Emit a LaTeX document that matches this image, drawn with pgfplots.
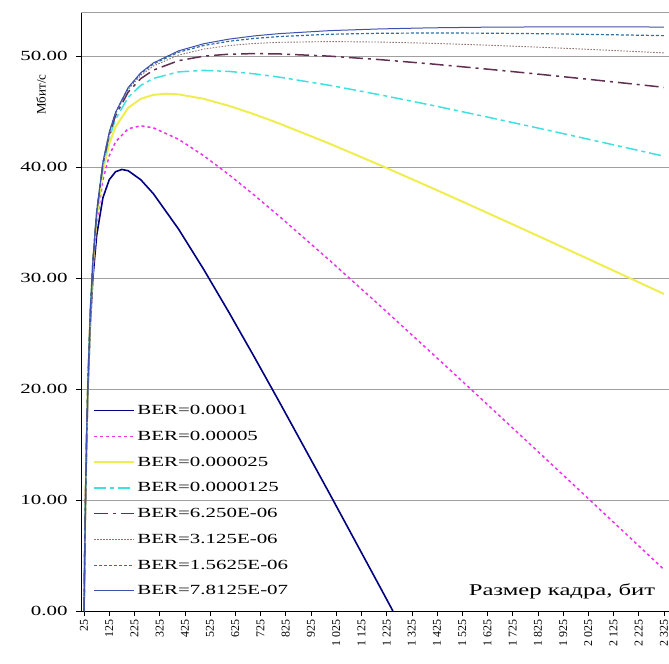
\documentclass[border=0pt]{standalone}
\usepackage{fontspec}
\setmainfont{Liberation Serif}[FakeStretch=1.5]
\newfontfamily\rotfont{Liberation Serif}
\usepackage{pgfplots}
\pgfplotsset{compat=1.18}
\definecolor{s1}{HTML}{000080}
\definecolor{s2}{HTML}{F030F0}
\definecolor{s3}{HTML}{EEEE50}
\definecolor{s4}{HTML}{40E0E0}
\definecolor{s5}{HTML}{603050}
\definecolor{s6}{HTML}{907070}
\definecolor{s7}{HTML}{3070A0}
\definecolor{s8}{HTML}{4050B0}
\begin{document}
\begin{tikzpicture}
\useasboundingbox (-81bp,-53bp) rectangle (588bp,611bp);
\clip (-81bp,-53bp) rectangle (588bp,611bp);
\begin{axis}[
   at={(0,0)}, anchor=south west,
   scale only axis,
   width=588bp, height=599bp,
   xmin=13, xmax=2345, ymin=0, ymax=54,
   axis x line*=bottom, axis y line*=left,
   axis line style={black, line width=0.8bp},
   xtick={25,125,...,2325},
   xticklabels={25,125,225,325,425,525,625,725,825,925,1 025,1 125,1 225,1 325,1 425,1 525,1 625,1 725,1 825,1 925,2 025,2 125,2 225,2 325},
   ytick={0,10,...,50},
   extra y ticks={54}, extra y tick labels={},
   extra y tick style={grid=major, major tick length=0pt},
   ymajorgrids=true,
   major grid style={gray!75, line width=0.9bp},
   tick align=outside, major tick length=5bp,
   tick style={black, line width=0.6bp},
   /pgf/number format/assume math mode=true,
   yticklabel style={font=\fontsize{14}{16}\selectfont, xshift=-5bp, /pgf/number format/.cd, fixed, fixed zerofill, precision=2},
   xticklabel style={rotate=90, anchor=east, font=\rotfont\fontsize{12}{13}\selectfont},
   ylabel={Мбит/с},
   ylabel style={at={(axis description cs:-0.068,0.862)}, anchor=center, font=\rotfont\fontsize{13}{15}\selectfont},
   legend style={at={(axis description cs:0.02,0.02)}, anchor=south west, draw=none, fill=none,
      font=\fontsize{14}{16}\selectfont, row sep=11bp, inner sep=0.5bp},
   legend cell align=left,
   legend image code/.code={\draw[#1] (0bp,0bp) -- (40bp,0bp);},
]
\addplot[s1, line width=1.6bp] coordinates {(25,0) (30,8.784) (35,14.997) (40,19.602) (50,25.92) (60,29.988) (75,33.84) (100,37.26) (125,38.88) (150,39.6) (175,39.806) (200,39.69) (250,38.88) (300,37.62) (400,34.425) (500,30.78) (600,26.91) (700,22.911) (800,18.833) (1000,10.53) (1200,2.115) (1250,0)};
\addlegendentry{BER=0.0001}
\addplot[s2, line width=1.5bp, dash pattern=on 3bp off 3bp] coordinates {(25,0) (30,8.892) (35,15.213) (40,19.926) (50,26.46) (60,30.744) (75,34.92) (100,38.88) (125,41.04) (150,42.3) (200,43.47) (250,43.74) (300,43.56) (400,42.525) (500,41.04) (600,39.33) (700,37.491) (800,35.573) (1000,31.59) (1200,27.495) (1400,23.336) (1600,19.136) (1800,14.91) (2000,10.665) (2200,6.406) (2325,3.739)};
\addlegendentry{BER=0.00005}
\addplot[s3, line width=2bp] coordinates {(25,0) (30,8.946) (35,15.32) (40,20.088) (50,26.73) (60,31.122) (75,35.46) (100,39.69) (125,42.12) (150,43.65) (200,45.36) (250,46.17) (300,46.53) (350,46.633) (400,46.575) (500,46.17) (600,45.54) (700,44.781) (800,43.943) (1000,42.12) (1200,40.185) (1400,38.186) (1600,36.146) (1800,34.08) (2000,31.995) (2200,29.896) (2325,28.579)};
\addlegendentry{BER=0.000025}
\addplot[s4, line width=1.5bp, dash pattern=on 12bp off 4bp on 4bp off 4bp] coordinates {(25,0) (30,8.973) (35,15.375) (40,20.169) (50,26.865) (60,31.311) (75,35.73) (100,40.095) (125,42.66) (150,44.325) (200,46.305) (250,47.385) (300,48.015) (400,48.6) (500,48.735) (600,48.645) (700,48.426) (800,48.128) (1000,47.385) (1200,46.53) (1400,45.611) (1600,44.651) (1800,43.665) (2000,42.66) (2200,41.641) (2325,40.999)};
\addlegendentry{BER=0.0000125}
\addplot[s5, line width=1.5bp, dash pattern=on 14bp off 5bp on 3bp off 5bp] coordinates {(25,0) (30,8.987) (35,15.402) (40,20.21) (50,26.933) (60,31.406) (75,35.865) (100,40.298) (125,42.93) (150,44.663) (200,46.778) (250,47.993) (300,48.758) (400,49.613) (500,50.018) (600,50.198) (700,50.249) (800,50.22) (1000,50.018) (1200,49.703) (1400,49.323) (1600,48.904) (1800,48.458) (2000,47.993) (2200,47.514) (2325,47.21)};
\addlegendentry{BER=6.250E-06}
\addplot[s6, line width=0.9bp, dash pattern=on 1.5bp off 1.5bp] coordinates {(25,0) (30,8.993) (35,15.415) (40,20.23) (50,26.966) (60,31.453) (75,35.933) (100,40.399) (125,43.065) (150,44.831) (200,47.014) (250,48.296) (300,49.129) (400,50.119) (500,50.659) (600,50.974) (700,51.16) (800,51.266) (1000,51.334) (1200,51.289) (1400,51.18) (1600,51.03) (1800,50.854) (2000,50.659) (2200,50.45) (2325,50.314)};
\addlegendentry{BER=3.125E-06}
\addplot[s7, line width=1.2bp, dash pattern=on 3bp off 2bp] coordinates {(25,0) (30,8.997) (35,15.422) (40,20.24) (50,26.983) (60,31.476) (75,35.966) (100,40.449) (125,43.133) (150,44.916) (200,47.132) (250,48.448) (300,49.314) (400,50.372) (500,50.979) (600,51.362) (700,51.616) (800,51.789) (1000,51.992) (1200,52.082) (1400,52.108) (1600,52.093) (1800,52.052) (2000,51.992) (2200,51.918) (2325,51.867)};
\addlegendentry{BER=1.5625E-06}
\addplot[s8, line width=1bp] coordinates {(25,0) (30,8.998) (35,15.425) (40,20.245) (50,26.992) (60,31.488) (75,35.983) (100,40.475) (125,43.166) (150,44.958) (200,47.191) (250,48.524) (300,49.407) (400,50.498) (500,51.14) (600,51.556) (700,51.844) (800,52.051) (1000,52.321) (1200,52.475) (1400,52.572) (1600,52.625) (1800,52.651) (2000,52.658) (2200,52.652) (2325,52.643)};
\addlegendentry{BER=7.8125E-07}
\node[font=\fontsize{16.5}{18}\selectfont] at (axis description cs:0.818,0.032) {Размер кадра, бит};
\end{axis}
\end{tikzpicture}
\end{document}
